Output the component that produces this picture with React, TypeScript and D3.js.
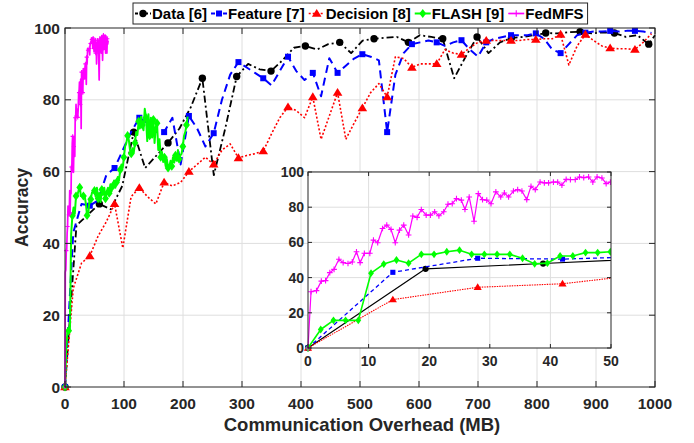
import { useEffect, useRef } from "react"
import * as d3 from "d3"

type Pt = [number, number]

const xTicks = [0, 100, 200, 300, 400, 500, 600, 700, 800, 900, 1000]
const yTicks = [0, 20, 40, 60, 80, 100]
const insetXTicks = [0, 10, 20, 30, 40, 50]
const insetYTicks = [0, 20, 40, 60, 80, 100]

const seriesNames = ["Data [6]", "Feature [7]", "Decision [8]", "FLASH [9]", "FedMFS"]

// Data [6]
const dataSeries: Pt[] = [
  [0, 0], [19.4, 45], [38.8, 48], [58.2, 51], [77.6, 49.5], [97, 56], [116.4, 71], [135.8, 61],
  [155.2, 64.5], [174.6, 68], [194, 72], [213.4, 78], [232.8, 86], [252.2, 59], [271.6, 72],
  [291, 86.5], [310.4, 90], [329.8, 88.5], [349.2, 88], [368.6, 91], [388, 94.5], [407.4, 95],
  [426.8, 94], [446.2, 95.5], [465.6, 96], [485, 93], [504.4, 96.5], [523.8, 97], [543.2, 97.3],
  [562.6, 97.5], [582, 96], [601.4, 98], [620.8, 97.5], [640.2, 97], [659.6, 86], [679, 92],
  [698.4, 97.5], [717.8, 93], [737.2, 96], [756.6, 97.2], [776, 97.5], [795.4, 98], [814.8, 98.6],
  [834.2, 98.5], [853.6, 98.8], [873, 99], [892.4, 98.5], [911.8, 98.8], [931.2, 98.6],
  [950.6, 97.5], [970, 98], [989.4, 95.5], [1000, 98],
]

// Feature [7]
const featureSeries: Pt[] = [
  [0, 0], [14, 43], [28, 51], [42, 50.5], [56, 52], [70, 59], [84, 61], [98, 66], [112, 71],
  [126, 75], [140, 73.5], [154, 71], [168, 71], [182, 75], [196, 62], [210, 75.5], [224, 72],
  [238, 67], [252, 70.7], [266, 80], [280, 87], [294, 90.5], [308, 89], [322, 87.5], [336, 86],
  [350, 84], [364, 88], [378, 92], [392, 88], [406, 85.5], [420, 87.5], [434, 81], [448, 91.6],
  [462, 87.5], [476, 89.5], [490, 91.5], [504, 92.7], [518, 92], [532, 91], [546, 71], [560, 87],
  [574, 93], [588, 95.5], [602, 96], [616, 96.5], [630, 96], [644, 95], [658, 96], [672, 96.6],
  [686, 94], [700, 92], [714, 96], [728, 97], [742, 97.5], [756, 98], [770, 98], [784, 98],
  [798, 98.5], [812, 97], [826, 94], [840, 93], [854, 95.5], [868, 98], [882, 98.7], [896, 99],
  [910, 99], [924, 99.2], [938, 99], [952, 99.2], [966, 99.2], [980, 99], [994, 98.6],
]

// Decision [8]
const decisionSeries: Pt[] = [
  [0, 0], [14, 27.5], [28, 34.5], [42, 36.5], [56, 42], [70, 46], [84, 51], [98, 38.7], [112, 53],
  [126, 55.5], [140, 53], [154, 51], [168, 57], [182, 56], [196, 57], [210, 60], [224, 62],
  [238, 64], [252, 62], [266, 66], [280, 67.7], [294, 63.8], [308, 64.5], [322, 65], [336, 65.7],
  [350, 70.5], [364, 75], [378, 78], [392, 77], [406, 75], [420, 80.8], [434, 69], [448, 75.5],
  [462, 82], [476, 69], [490, 73.5], [504, 77.7], [518, 82], [532, 84.5], [546, 80.8], [560, 92],
  [574, 91.5], [588, 89], [602, 90], [616, 90], [630, 90], [644, 94], [658, 93], [672, 92.6],
  [686, 94.5], [700, 96], [714, 96.5], [728, 96.5], [742, 96.5], [756, 96.5], [770, 96.5],
  [784, 96.8], [798, 96.8], [812, 97], [826, 97], [840, 98.2], [854, 89.7], [868, 95],
  [882, 98.2], [896, 96.5], [910, 95], [924, 94.4], [938, 94.2], [952, 94.2], [966, 94],
  [980, 96], [994, 98.4],
]

// FLASH [9]
const flashSeries: Pt[] = [
  [0, 0], [2.1, 10.5], [4.2, 15.7], [6.2, 15.7], [8.3, 15.7], [10.4, 42.5], [12.5, 47.7],
  [14.6, 50], [16.6, 48.2], [18.7, 53.2], [20.8, 53.2], [22.9, 54.7], [25, 55.6], [27, 53.2],
  [29.1, 53.2], [31.2, 53.2], [33.3, 53.2], [35.4, 51], [37.4, 47.8], [39.5, 48.2], [41.6, 52.3],
  [43.7, 52.3], [45.8, 54.2], [47.8, 54.2], [49.9, 54.7], [52, 53], [54.1, 55.5], [56.2, 52.5],
  [58.2, 54], [60.3, 51.5], [62.4, 55], [64.5, 53.5], [66.6, 55.5], [68.6, 52.5], [70.7, 54.5],
  [72.8, 55.5], [74.9, 54], [77, 56.5], [79, 54.5], [81.1, 56], [83.2, 57.5], [85.3, 55.5],
  [87.4, 57], [89.4, 58.5], [91.5, 57.5], [93.6, 60.5], [95.7, 62], [97.8, 61], [99.8, 64],
  [101.9, 67], [104, 68], [106.1, 70], [108.2, 68.8], [110.2, 66], [112.3, 65], [114.4, 66.5],
  [116.5, 65.2], [118.6, 68], [120.6, 71], [122.7, 70.2], [124.8, 74], [126.9, 72], [129, 75.3],
  [131, 73], [133.1, 71.5], [135.2, 77.5], [137.3, 75], [139.4, 68.5], [141.4, 76], [143.5, 70],
  [145.6, 75], [147.7, 69.5], [149.8, 74.5], [151.8, 68], [153.9, 72.5], [156, 73.5], [158.1, 66],
  [160.2, 69], [162.2, 64], [164.3, 65.5], [166.4, 62.7], [168.5, 64], [170.6, 61.5], [172.6, 63.5],
  [174.7, 61], [176.8, 61.4], [178.9, 63], [181, 61.5], [183, 64], [185.1, 62.5], [187.2, 64.5],
  [189.3, 63], [191.4, 66], [193.4, 63.5], [195.5, 64.5], [197.6, 65], [199.7, 67], [201.8, 70],
  [203.8, 71], [205.9, 73], [208, 75.3],
]

// FedMFS
const fedmfsSeries: Pt[] = [
  [0, 0], [0.5, 32], [1.4, 32.6], [2.2, 38], [2.9, 38.3], [3.6, 42.8], [4.3, 44.7], [5.1, 50.4],
  [5.8, 48.5], [6.6, 48], [7.3, 48.9], [8, 54.7], [8.6, 48.5], [9.3, 53.8], [10.2, 53.8],
  [10.8, 61.3], [11.5, 59.8], [12.3, 67.9], [13, 69.8], [13.7, 67.4], [14.4, 59.8], [15.1, 67],
  [15.8, 69.8], [16.6, 64.2], [17.3, 75], [18, 74.2], [18.7, 78.7], [19.5, 75.5], [20.2, 75.5],
  [20.9, 77.4], [21.6, 75.1], [22.4, 77.4], [23.1, 81.7], [23.8, 82], [24.5, 84.9], [25.3, 84],
  [25.9, 78.7], [26.6, 85.8], [27.4, 72], [28.1, 87.7], [28.8, 84.3], [29.5, 84], [30.2, 82],
  [31, 88.7], [31.8, 85.8], [32.4, 88.1], [33.1, 85.8], [33.9, 89.2], [34.6, 90], [35.3, 89.2],
  [36.1, 84.3], [36.8, 91.9], [37.5, 90], [38.3, 94.3], [39, 93.8], [39.7, 93.8], [40.5, 94.3],
  [41.2, 94.3], [41.9, 92.5], [42.6, 95.8], [43.3, 95.7], [44.1, 95.7], [44.8, 97.2], [45.5, 96.8],
  [46.3, 97.2], [47, 94.3], [47.7, 97.2], [48.5, 96.6], [49.2, 93.4], [49.9, 94.3], [50.6, 95],
  [51.3, 97], [52, 93], [52.8, 96], [53.5, 90], [54.2, 95], [55, 97], [55.7, 93.5], [56.4, 96.5],
  [57.1, 92], [57.9, 85.5], [58.6, 94], [59.3, 97.5], [60, 95], [60.8, 97], [61.5, 93],
  [62.2, 97.8], [63, 96], [63.7, 91], [64.4, 96], [65.1, 98], [65.9, 94], [66.6, 97], [67.3, 96],
  [68, 98], [68.8, 93], [69.5, 97.5], [70.2, 95], [71, 93], [71.7, 97], [72.4, 95.5], [73.2, 96.5],
]

type MarkerKind = "circle" | "square" | "triangle" | "diamond" | "plus"

function drawMarker(
  g: d3.Selection<SVGGElement, unknown, null, undefined>,
  kind: MarkerKind,
  x: number,
  y: number,
  color: string,
  s: number
) {
  if (kind === "circle") {
    g.append("circle").attr("cx", x).attr("cy", y).attr("r", 3.7 * s).attr("fill", color)
  } else if (kind === "square") {
    g.append("rect")
      .attr("x", x - 3 * s).attr("y", y - 3 * s)
      .attr("width", 6 * s).attr("height", 6 * s)
      .attr("fill", color)
  } else if (kind === "triangle") {
    g.append("path")
      .attr("d", `M${x},${y - 4.6 * s}L${x + 4.8 * s},${y + 3.2 * s}L${x - 4.8 * s},${y + 3.2 * s}Z`)
      .attr("fill", color)
  } else if (kind === "diamond") {
    g.append("path")
      .attr("d", `M${x},${y - 4.6 * s}L${x + 3.4 * s},${y}L${x},${y + 4.6 * s}L${x - 3.4 * s},${y}Z`)
      .attr("fill", color)
  } else {
    g.append("path")
      .attr("d", `M${x - 3 * s},${y}H${x + 3 * s}M${x},${y - 3 * s}V${y + 3 * s}`)
      .attr("stroke", color)
      .attr("stroke-width", 1.1)
      .attr("fill", "none")
  }
}

export default function App() {
  const svgRef = useRef<SVGSVGElement>(null)

  useEffect(() => {
    if (!svgRef.current) return
    const svg = d3.select(svgRef.current)
    svg.selectAll("*").remove()

    const font = "'Liberation Sans', Arial, Helvetica, sans-serif"
    const axisColor = "#262626"
    const gridColor = "#dedede"

    const series = [
      { name: seriesNames[0], pts: dataSeries, color: "#000000", dash: "7,3,2,3", width: 1.8, marker: "circle" as MarkerKind, insetDash: null, insetWidth: 1.2 },
      { name: seriesNames[1], pts: featureSeries, color: "#0000ff", dash: "8,5", width: 2, marker: "square" as MarkerKind, insetDash: "4,3", insetWidth: 1.3 },
      { name: seriesNames[2], pts: decisionSeries, color: "#ff0000", dash: "2,2", width: 1.6, marker: "triangle" as MarkerKind, insetDash: "1.5,1", insetWidth: 1.1 },
      { name: seriesNames[3], pts: flashSeries, color: "#00ff00", dash: null, width: 2, marker: "diamond" as MarkerKind, insetDash: null, insetWidth: 1.6 },
      { name: seriesNames[4], pts: fedmfsSeries, color: "#ff00ff", dash: null, width: 1.7, marker: "plus" as MarkerKind, insetDash: null, insetWidth: 1.2 },
    ]

    // ---------- main axes ----------
    const x = d3.scaleLinear().domain([0, 1000]).range([65, 655])
    const y = d3.scaleLinear().domain([0, 100]).range([387, 28])

    const main = svg.append("g")

    main.append("rect")
      .attr("x", x(0)).attr("y", y(100))
      .attr("width", x(1000) - x(0)).attr("height", y(0) - y(100))
      .attr("fill", "#fff")

    xTicks.slice(1, -1).forEach((t) => {
      main.append("line")
        .attr("x1", x(t)).attr("x2", x(t)).attr("y1", y(0)).attr("y2", y(100))
        .attr("stroke", gridColor).attr("stroke-width", 1)
    })
    yTicks.slice(1, -1).forEach((t) => {
      main.append("line")
        .attr("x1", x(0)).attr("x2", x(1000)).attr("y1", y(t)).attr("y2", y(t))
        .attr("stroke", gridColor).attr("stroke-width", 1)
    })

    svg.append("defs").append("clipPath").attr("id", "mainClip")
      .append("rect")
      .attr("x", x(0) - 6).attr("y", y(100) - 6)
      .attr("width", x(1000) - x(0) + 12).attr("height", y(0) - y(100) + 12)

    const plot = main.append("g").attr("clip-path", "url(#mainClip)")
    const line = d3.line<Pt>().x((d) => x(d[0])).y((d) => y(d[1]))

    series.forEach((s) => {
      const p = plot.append("path")
        .datum(s.pts)
        .attr("d", line)
        .attr("fill", "none")
        .attr("stroke", s.color)
        .attr("stroke-width", s.width)
        .attr("stroke-linejoin", "round")
      if (s.dash) p.attr("stroke-dasharray", s.dash)
      const mg = plot.append("g")
      s.pts.forEach((d, i) => {
        if (i % 3 !== 0) return
        drawMarker(mg, s.marker, x(d[0]), y(d[1]), s.color, s.marker === "plus" ? 0.7 : 1)
      })
    })

    // axes box + ticks
    main.append("rect")
      .attr("x", x(0)).attr("y", y(100))
      .attr("width", x(1000) - x(0)).attr("height", y(0) - y(100))
      .attr("fill", "none").attr("stroke", axisColor).attr("stroke-width", 1)

    xTicks.forEach((t) => {
      main.append("line").attr("x1", x(t)).attr("x2", x(t)).attr("y1", y(0)).attr("y2", y(0) - 6)
        .attr("stroke", axisColor)
      main.append("line").attr("x1", x(t)).attr("x2", x(t)).attr("y1", y(100)).attr("y2", y(100) + 6)
        .attr("stroke", axisColor)
      main.append("text")
        .attr("x", x(t)).attr("y", 409)
        .attr("text-anchor", "middle")
        .attr("font-family", font).attr("font-weight", "bold").attr("font-size", 15.5)
        .attr("fill", axisColor)
        .text(t)
    })
    yTicks.forEach((t) => {
      main.append("line").attr("x1", x(0)).attr("x2", x(0) + 6).attr("y1", y(t)).attr("y2", y(t))
        .attr("stroke", axisColor)
      main.append("line").attr("x1", x(1000)).attr("x2", x(1000) - 6).attr("y1", y(t)).attr("y2", y(t))
        .attr("stroke", axisColor)
      main.append("text")
        .attr("x", 60).attr("y", y(t))
        .attr("dy", "0.36em")
        .attr("text-anchor", "end")
        .attr("font-family", font).attr("font-weight", "bold").attr("font-size", 15.5)
        .attr("fill", axisColor)
        .text(t)
    })

    main.append("text")
      .attr("x", 362).attr("y", 431)
      .attr("text-anchor", "middle")
      .attr("font-family", font).attr("font-weight", "bold").attr("font-size", 18.5)
      .attr("fill", axisColor)
      .text("Communication Overhead (MB)")

    main.append("text")
      .attr("transform", `translate(28,${(y(0) + y(100)) / 2}) rotate(-90)`)
      .attr("text-anchor", "middle")
      .attr("font-family", font).attr("font-weight", "bold").attr("font-size", 17.5)
      .attr("fill", axisColor)
      .text("Accuracy")

    // ---------- inset ----------
    const xi = d3.scaleLinear().domain([0, 50]).range([308, 611])
    const yi = d3.scaleLinear().domain([0, 100]).range([348, 172])
    const inset = svg.append("g")

    inset.append("rect")
      .attr("x", xi(0)).attr("y", yi(100))
      .attr("width", xi(50) - xi(0)).attr("height", yi(0) - yi(100))
      .attr("fill", "#fff")

    insetXTicks.slice(1, -1).forEach((t) => {
      inset.append("line")
        .attr("x1", xi(t)).attr("x2", xi(t)).attr("y1", yi(0)).attr("y2", yi(100))
        .attr("stroke", gridColor)
    })
    insetYTicks.slice(1, -1).forEach((t) => {
      inset.append("line")
        .attr("x1", xi(0)).attr("x2", xi(50)).attr("y1", yi(t)).attr("y2", yi(t))
        .attr("stroke", gridColor)
    })

    svg.select("defs").append("clipPath").attr("id", "insetClip")
      .append("rect")
      .attr("x", xi(0) - 5).attr("y", yi(100))
      .attr("width", xi(50) - xi(0) + 5).attr("height", yi(0) - yi(100) + 5)

    const iplot = inset.append("g").attr("clip-path", "url(#insetClip)")
    const iline = d3.line<Pt>().x((d) => xi(d[0])).y((d) => yi(d[1]))

    series.forEach((s) => {
      const p = iplot.append("path")
        .datum(s.pts.filter((d, i, arr) => d[0] <= 50 || (i > 0 && arr[i - 1][0] <= 50)))
        .attr("d", iline)
        .attr("fill", "none")
        .attr("stroke", s.color)
        .attr("stroke-width", s.insetWidth)
        .attr("stroke-linejoin", "round")
      if (s.insetDash) p.attr("stroke-dasharray", s.insetDash)
      const mg = iplot.append("g")
      s.pts.forEach((d) => {
        if (d[0] > 50) return
        drawMarker(mg, s.marker, xi(d[0]), yi(d[1]), s.color, s.marker === "plus" ? 0.95 : 0.85)
      })
    })

    inset.append("rect")
      .attr("x", xi(0)).attr("y", yi(100))
      .attr("width", xi(50) - xi(0)).attr("height", yi(0) - yi(100))
      .attr("fill", "none").attr("stroke", axisColor).attr("stroke-width", 1)

    insetXTicks.forEach((t) => {
      inset.append("line").attr("x1", xi(t)).attr("x2", xi(t)).attr("y1", yi(0)).attr("y2", yi(0) - 4)
        .attr("stroke", axisColor)
      inset.append("line").attr("x1", xi(t)).attr("x2", xi(t)).attr("y1", yi(100)).attr("y2", yi(100) + 4)
        .attr("stroke", axisColor)
      inset.append("text")
        .attr("x", xi(t)).attr("y", 366)
        .attr("text-anchor", "middle")
        .attr("font-family", font).attr("font-weight", "bold").attr("font-size", 14)
        .attr("fill", axisColor)
        .text(t)
    })
    insetYTicks.forEach((t) => {
      inset.append("line").attr("x1", xi(0)).attr("x2", xi(0) + 4).attr("y1", yi(t)).attr("y2", yi(t))
        .attr("stroke", axisColor)
      inset.append("line").attr("x1", xi(50)).attr("x2", xi(50) - 4).attr("y1", yi(t)).attr("y2", yi(t))
        .attr("stroke", axisColor)
      inset.append("text")
        .attr("x", 304).attr("y", yi(t))
        .attr("dy", "0.36em")
        .attr("text-anchor", "end")
        .attr("font-family", font).attr("font-weight", "bold").attr("font-size", 14)
        .attr("fill", axisColor)
        .text(t)
    })

    // ---------- legend ----------
    const legend = svg.append("g")
    const box = legend.append("rect")
      .attr("y", 3).attr("height", 21)
      .attr("fill", "#fff").attr("stroke", axisColor).attr("stroke-width", 1)
    let cx = 135
    const ly = 13.5
    series.forEach((s) => {
      const l = legend.append("line")
        .attr("x1", cx).attr("x2", cx + 16).attr("y1", ly).attr("y2", ly)
        .attr("stroke", s.color).attr("stroke-width", s.width)
      if (s.dash) l.attr("stroke-dasharray", s.marker === "circle" ? "3,2" : s.dash === "8,5" ? "4,2" : s.dash)
      const mg = legend.append("g")
      drawMarker(mg, s.marker, cx + 8, ly, s.color, s.marker === "plus" ? 1.1 : 1)
      const t = legend.append("text")
        .attr("x", cx + 17).attr("y", ly)
        .attr("dy", "0.36em")
        .attr("font-family", font).attr("font-weight", "bold").attr("font-size", 15)
        .attr("fill", "#000")
        .text(s.name)
      const w = (t.node() as SVGTextElement).getComputedTextLength()
      cx = cx + 17 + w + 4
    })
    box.attr("x", 133).attr("width", cx - 133)
  }, [])

  return (
    <svg
      ref={svgRef}
      width={694}
      height={443}
      style={{ position: "absolute", left: 0, top: 0, background: "#fff" }}
    />
  )
}
